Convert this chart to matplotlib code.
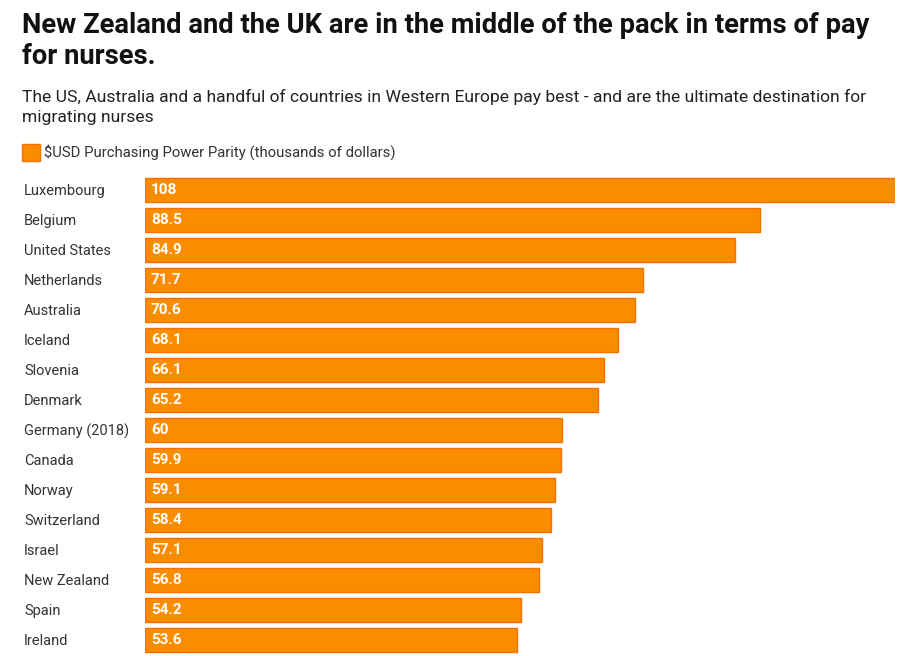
import matplotlib
matplotlib.use("Agg")
import matplotlib.pyplot as plt
from matplotlib.patches import Rectangle

countries = ["Luxembourg", "Belgium", "United States", "Netherlands", "Australia",
             "Iceland", "Slovenia", "Denmark", "Germany (2018)", "Canada", "Norway",
             "Switzerland", "Israel", "New Zealand", "Spain", "Ireland"]
values = [108, 88.5, 84.9, 71.7, 70.6, 68.1, 66.1, 65.2, 60, 59.9, 59.1,
          58.4, 57.1, 56.8, 54.2, 53.6]
value_labels = ["108", "88.5", "84.9", "71.7", "70.6", "68.1", "66.1", "65.2", "60",
                "59.9", "59.1", "58.4", "57.1", "56.8", "54.2", "53.6"]

title = "New Zealand and the UK are in the middle of the pack in terms of pay\nfor nurses."
subtitle = ("The US, Australia and a handful of countries in Western Europe pay best - and are the ultimate destination for\n"
            "migrating nurses")
legend_label = "$USD Purchasing Power Parity (thousands of dollars)"

plt.rcParams['font.family'] = ['Roboto', 'DejaVu Sans']

W, H = 921, 656
fig = plt.figure(figsize=(W / 100, H / 100), dpi=100)

bar_color = "#FA8C00"
edge_color = "#F57000"

ax = fig.add_axes([145 / W, (H - 655) / H, 750 / W, 480 / H])
ypos = list(range(len(countries)))
ax.barh(ypos, values, height=0.8, color=bar_color, edgecolor=edge_color, linewidth=1)
ax.set_xlim(0, 108)
ax.set_ylim(len(countries) - 0.5, -0.5)
ax.axis("off")

for i, (c, lab) in enumerate(zip(countries, value_labels)):
    ax.text(0.85, i, lab, color="white", fontsize=11, fontweight="bold",
            va="center", ha="left")
    fig.text(24 / W, 1 - (191 + 30 * i) / H, c, color="#333333", fontsize=10.5,
             va="center", ha="left")

fig.text(22 / W, 1 - 12 / H, title, fontsize=19.7, fontweight="bold", color="#111111",
         va="top", ha="left", linespacing=1.2)
fig.text(22 / W, 1 - 89 / H, subtitle, fontsize=12.6, color="#222222",
         va="top", ha="left", linespacing=1.38)

fig.patches.append(Rectangle((22 / W, 1 - 161 / H), 18 / W, 17 / H,
                             transform=fig.transFigure, facecolor=bar_color,
                             edgecolor=edge_color, linewidth=1))
fig.text(44 / W, 1 - 152 / H, legend_label, fontsize=10.75, color="#333333",
         va="center", ha="left")

fig.savefig("out.png", dpi=100)
